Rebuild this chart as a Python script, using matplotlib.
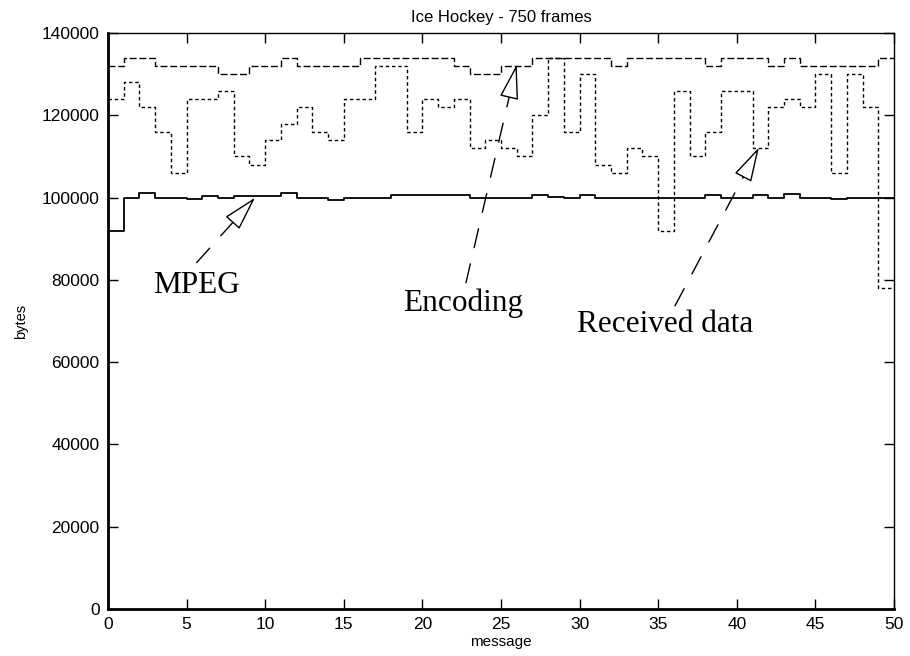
import numpy as np
import matplotlib
matplotlib.use('Agg')
import matplotlib.pyplot as plt

# values per message (step from i to i+1)
messages = np.arange(0, 51)
mpeg = [92000, 100000, 101200, 100000, 100000, 99700, 100400, 100000, 100400, 100400,
        100400, 101200, 100000, 100000, 99500, 100000, 100000, 99800, 100600, 100600,
        100600, 100700, 100700, 100000, 100000, 100000, 100000, 100600, 100100, 100000,
        100600, 100000, 100000, 100000, 100000, 100000, 100000, 100000, 100600, 100000,
        100000, 100600, 100000, 100800, 100000, 99900, 99600, 100000, 100000, 100000]
encoding = [132000, 134000, 134000, 132000, 132000, 132000, 132000, 130000, 130000, 132000,
            132000, 134000, 132000, 132000, 132000, 132000, 134000, 134000, 134000, 134000,
            134000, 134000, 132000, 130000, 130000, 132000, 132000, 134000, 134000, 134000,
            134000, 134000, 132000, 134000, 134000, 134000, 134000, 134000, 132000, 134000,
            134000, 134000, 132000, 134000, 132000, 132000, 132000, 132000, 132000, 134000]
received = [124000, 128000, 122000, 116000, 106000, 124000, 124000, 126000, 110000, 108000,
            114000, 118000, 122000, 116000, 114000, 124000, 124000, 132000, 132000, 116000,
            124000, 122000, 124000, 112000, 114000, 112000, 110000, 120000, 134000, 116000,
            130000, 108000, 106000, 112000, 110000, 92000, 126000, 110000, 116000, 126000,
            126000, 112000, 122000, 124000, 122000, 130000, 106000, 130000, 122000, 78000]

xticks = [0, 5, 10, 15, 20, 25, 30, 35, 40, 45, 50]
yticks = [0, 20000, 40000, 60000, 80000, 100000, 120000, 140000]

# annotation labels: (text, text pos, arrow tail, arrow tip)
notes = [("MPEG", (2.84, 76800), (5.64, 84200), (9.36, 100000)),
         ("Encoding", (18.75, 72500), (22.77, 79300), (26.0, 132300)),
         ("Received data", (29.85, 67400), (36.07, 73700), (41.41, 112200))]

plt.rcParams['font.family'] = ['Liberation Sans', 'DejaVu Sans']

fig = plt.figure(figsize=(9.1, 6.56), dpi=100)
ax = fig.add_axes([0.1187, 0.0716, 0.8637, 0.878])

ax.plot(messages, mpeg + [mpeg[-1]], drawstyle='steps-post', color='black', lw=1.3)
ax.plot(messages, encoding + [encoding[-1]], drawstyle='steps-post', color='black',
        lw=1.0, linestyle=(0, (5, 2)))
ax.plot(messages, received + [received[-1]], drawstyle='steps-post', color='black',
        lw=1.0, linestyle=(0, (2.5, 2)))

ax.set_xlim(0, 50)
ax.set_ylim(0, 140000)

head_px = 31
for txt, tpos, tail, tip in notes:
    ax.text(tpos[0], tpos[1], txt, family='Liberation Serif', fontsize=22.5,
            ha='left', va='baseline')
    # head base found in pixel space so head size is fixed
    p_tip = ax.transData.transform(tip)
    p_tail = ax.transData.transform(tail)
    u = (p_tip - p_tail) / np.hypot(*(p_tip - p_tail))
    base = ax.transData.inverted().transform(p_tip - u * (head_px + 1))
    # dashed shaft
    ax.annotate('', xy=tuple(base), xytext=tail,
                arrowprops=dict(arrowstyle='-', color='black', lw=1.0,
                                linestyle=(0, (14, 12)), shrinkA=0, shrinkB=0))
    # hollow head
    ax.annotate('', xy=tip, xytext=tuple(base),
                arrowprops=dict(arrowstyle='-|>,head_length=2.2,head_width=0.6',
                                fc='white', ec='black', lw=1.0, shrinkA=0, shrinkB=0))

ax.set_xticks(xticks)
ax.set_yticks(yticks)
ax.tick_params(direction='in', length=7, width=1, top=True, right=True,
               labelsize=12.5, pad=6)
for s in ['left', 'bottom']:
    ax.spines[s].set_linewidth(2)
for s in ['top', 'right']:
    ax.spines[s].set_linewidth(1)

ax.set_title('Ice Hockey - 750 frames', fontsize=12, pad=8)
ax.set_xlabel('message', fontsize=11, labelpad=2)
ax.set_ylabel('bytes', fontsize=10.5, labelpad=10)

fig.savefig('out.png', dpi=100)
